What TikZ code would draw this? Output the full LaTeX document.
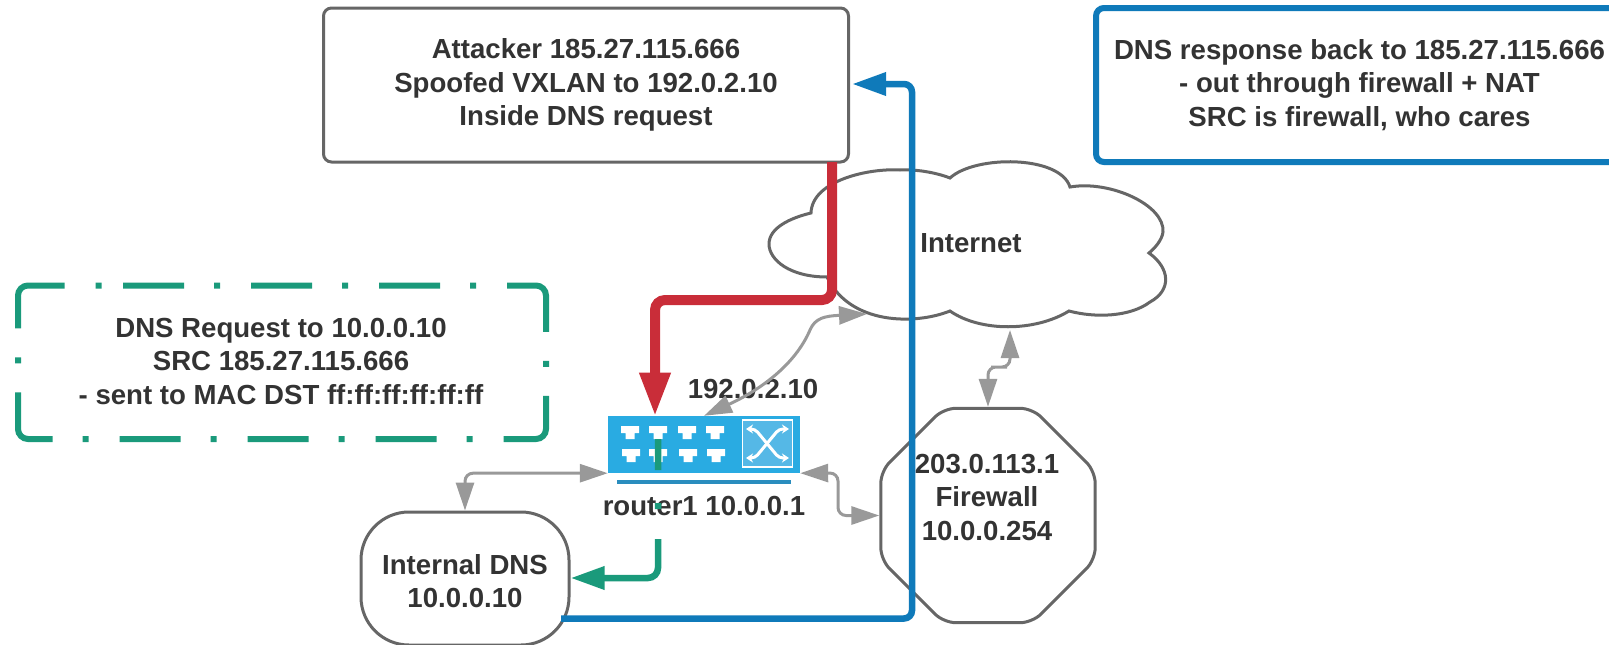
\documentclass[tikz,border=0pt]{standalone}
\usepackage{fontspec}
\setmainfont{Liberation Sans}
\usepackage{tikz}
\usetikzlibrary{
	arrows.meta,
	shapes.geometric
}
\definecolor{inkgrey}{HTML}{333333}
\definecolor{boxgrey}{HTML}{666666}
\definecolor{wiregrey}{HTML}{999999}
\definecolor{netred}{HTML}{C92D39}
\definecolor{netgreen}{HTML}{1A9A7B}
\definecolor{netblue}{HTML}{0F7ABA}
\definecolor{switchblue}{HTML}{29ABE2}
\definecolor{panelblue}{HTML}{55B8E6}
\definecolor{barblue}{HTML}{2A8DBE}
\tikzset{
	txt/.style={text=inkgrey,font=\fontsize{27.6}{33.5}\selectfont\bfseries,align=center},
	plainbox/.style={txt,draw=boxgrey,line width=3pt,fill=white,rounded corners=8pt,inner sep=0pt},
	wire/.style={draw=wiregrey,line width=3pt,rounded corners=8pt,{Triangle[length=28pt,width=18pt]}-{Triangle[length=28pt,width=18pt]}},
	crossarrow/.style={white,line width=3pt,rounded corners=4pt,{Stealth[length=7pt,width=9pt]}-{Stealth[length=7pt,width=9pt]}}
}

\begin{document}
\begin{tikzpicture}[x=1pt,y=-1pt]
	\useasboundingbox (0,0) rectangle (1609,645);

	% cloud
	\draw[draw=boxgrey,line width=3pt,fill=white]
		(811,213) .. controls (812,180) and (870,168) .. (900,170)
		.. controls (920,169) and (940,174) .. (950,178)
		.. controls (975,155) and (1060,155) .. (1070,187)
		.. controls (1110,180) and (1165,205) .. (1163,232)
		.. controls (1162,240) and (1155,248) .. (1149,253)
		.. controls (1170,268) and (1172,290) .. (1150,302)
		.. controls (1130,317) and (1095,318) .. (1069,311)
		.. controls (1035,332) and (980,332) .. (950,311)
		.. controls (915,325) and (850,325) .. (827,277)
		.. controls (790,277) and (769,260) .. (769,244)
		.. controls (769,228) and (790,218) .. (811,213) -- cycle;
	\coordinate (cloudsw) at (867,314);
	\coordinate (clouds) at (1010,330);
	\node[txt] (internet) at (971,243) {Internet};

	% firewall
	\node[regular polygon,regular polygon sides=8,minimum size=232pt,inner sep=0pt,draw=boxgrey,line width=3pt,rounded corners=12pt,fill=white] (firewall) at (988,515.5) {};
	\node[txt] (fwtext) at (987,497) {203.0.113.1\\Firewall\\10.0.0.254};

	% dns
	\node[plainbox,rounded corners=48pt,minimum width=208pt,minimum height=133pt] (dns) at (465,578.5) {};
	\node[txt] (dnstext) at (465,581) {Internal DNS\\10.0.0.10};

	% router
	\node[fill=switchblue,minimum width=192pt,minimum height=57pt,inner sep=0pt] (router) at (704,444.5) {};
	\foreach \px/\py in {630/426,658/426,687/426,715/426,631/449,658/449,688/449,716/449}
		\fill[white,shift={(\px,\py)}] (-9,0) -- (9,0) -- (9,7) -- (4.5,7) -- (4.5,13) -- (-4.5,13) -- (-4.5,7) -- (-9,7) -- cycle;
	\node[draw=white,line width=1.5pt,fill=panelblue,minimum width=50pt,minimum height=47pt,inner sep=0pt] (panel) at (767.5,443.5) {};
	\draw[crossarrow] (746,429) -- (755,429) -- (779,458) -- (789,458);
	\draw[crossarrow] (746,458) -- (755,458) -- (779,429) -- (789,429);
	\fill[barblue] (617,480) rectangle (791,484);
	\node[txt] (routertext) at (704,505.5) {router1 10.0.0.1};
	\node[txt] (wantext) at (753,389) {192.0.2.10};

	% boxes
	\node[plainbox,minimum width=525pt,minimum height=154pt] (attacker) at (586,85) {Attacker 185.27.115.666\\Spoofed VXLAN to 192.0.2.10\\Inside DNS request};
	\node[plainbox,draw=netblue,line width=6pt,minimum width=527pt,minimum height=154pt] (response) at (1359.5,85) {DNS response back to 185.27.115.666\\- out through firewall + NAT\\SRC is firewall, who cares};
	\node[txt] (request) at (281,361) {DNS Request to 10.0.0.10\\SRC 185.27.115.666\\- sent to MAC DST ff:ff:ff:ff:ff:ff};
	\draw[netgreen,line width=6pt,rounded corners=10pt,
		dash pattern=on 61pt off 30pt on 6pt off 31pt on 61pt off 30pt on 6pt off 31pt on 61pt off 30pt on 6pt off 31pt on 81pt off 29pt on 6pt off 29pt on 81pt off 31pt on 6pt off 30pt on 61pt off 31pt on 6pt off 30pt on 61pt off 31pt on 6pt off 30pt on 61pt off 31pt on 6pt off 30pt on 77pt off 29pt on 6pt off 29pt on 85pt off 31pt on 6pt off 30pt]
		(123,285.5) -- (546,285.5) -- (546,439) -- (18,439) -- (18,285.5) -- (123,285.5);

	% connectors
	\coordinate (attackerout) at (832,162);
	\coordinate (attackerin) at (852,84);
	\coordinate (dnsout) at (561,618.5);
	\coordinate (routertap) at (658,439);
	\coordinate (routerin) at (655,416.5);
	\draw[wire] (router.south west) -| (dns.north);
	\draw[wire] (router.south east) -- (838,473) |- (firewall.west);
	\draw[wire] (firewall.north) |- (999,367) -| (clouds);
	\draw[draw=wiregrey,line width=3pt,{Triangle[length=28pt,width=18pt]}-{Triangle[length=28pt,width=18pt]}]
		(router.north) .. controls (760,390) and (795,365) .. (810,330)
		.. controls (815,318) and (825,316) .. (cloudsw);
	\draw[netred,line width=10pt,rounded corners=10pt,-{Triangle[length=44pt,width=29pt]}]
		(attackerout) |- (655,300) -- (routerin);
	\draw[netgreen,line width=6.5pt,rounded corners=10pt,dash pattern=on 31pt off 33pt on 6pt off 30pt on 1000pt,-{Triangle[length=34pt,width=22pt]}]
		(routertap) |- (dns.east |- 0,578);
	\draw[netblue,line width=6.5pt,rounded corners=8pt,-{Triangle[length=34pt,width=22pt]}]
		(dnsout) -| (912,84) -- (attackerin);
\end{tikzpicture}
\end{document}
